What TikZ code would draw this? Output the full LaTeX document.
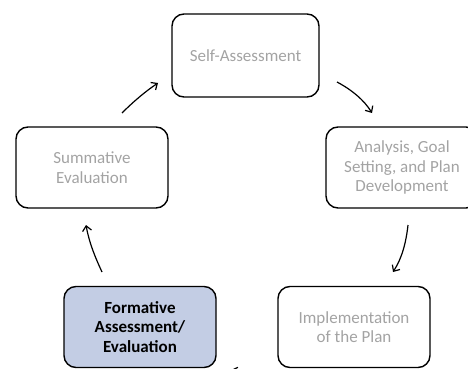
\documentclass[tikz,border=0pt]{standalone}
\usepackage{fontspec}
\setmainfont{Carlito}
\usetikzlibrary{arrows.meta}
\definecolor{txtgrey}{HTML}{A3A3A3}
\definecolor{boxblue}{HTML}{C3CDE4}
\begin{document}
\begin{tikzpicture}[x=1pt,y=-1pt,
  stage/.style={draw=black,line width=1.4pt,rounded corners=12pt,minimum width=152pt,minimum height=81pt,align=center,text=txtgrey,font=\fontsize{17}{19.5}\selectfont,inner sep=0pt},
  active/.style={stage,fill=boxblue,text=black,font=\fontsize{17}{19.5}\selectfont\bfseries},
  flow/.style={line width=1.2pt,-{Straight Barb[length=5pt,width=9pt]}}]
\useasboundingbox (0,0) rectangle (468,369);
\clip (0,0) rectangle (468,369);
\node[stage,minimum width=147pt,minimum height=83pt] (self) at (245.5,55.5) {Self-Assessment};
\node[stage] (analysis) at (402,167.5) {Analysis, Goal\\Setting, and Plan\\Development};
\node[stage] (impl) at (354,327) {Implementation\\of the Plan};
\node[active] (form) at (140,327) {Formative\\Assessment/\\Evaluation};
\node[stage] (sum) at (92,167.5) {Summative\\Evaluation};
\coordinate (a1s) at (122,113); \coordinate (a1e) at (158,83);
\coordinate (a2s) at (337,82); \coordinate (a2e) at (372,113);
\coordinate (a3s) at (408,225); \coordinate (a3e) at (393,272);
\coordinate (a4s) at (102,272); \coordinate (a4e) at (86,225);
\coordinate (a5s) at (290,400); \coordinate (a5e) at (231,370);
\draw[flow] (a1s) .. controls (134,101) and (146,91) .. (a1e);
\draw[flow] (a2s) .. controls (352,90) and (364,100) .. (a2e);
\draw[flow] (a3s) .. controls (406,243) and (402,258) .. (a3e);
\draw[flow] (a4s) .. controls (95,257) and (89,242) .. (a4e);
\draw[flow] (a5s) .. controls (270,385) and (248,375) .. (a5e);
\end{tikzpicture}
\end{document}
